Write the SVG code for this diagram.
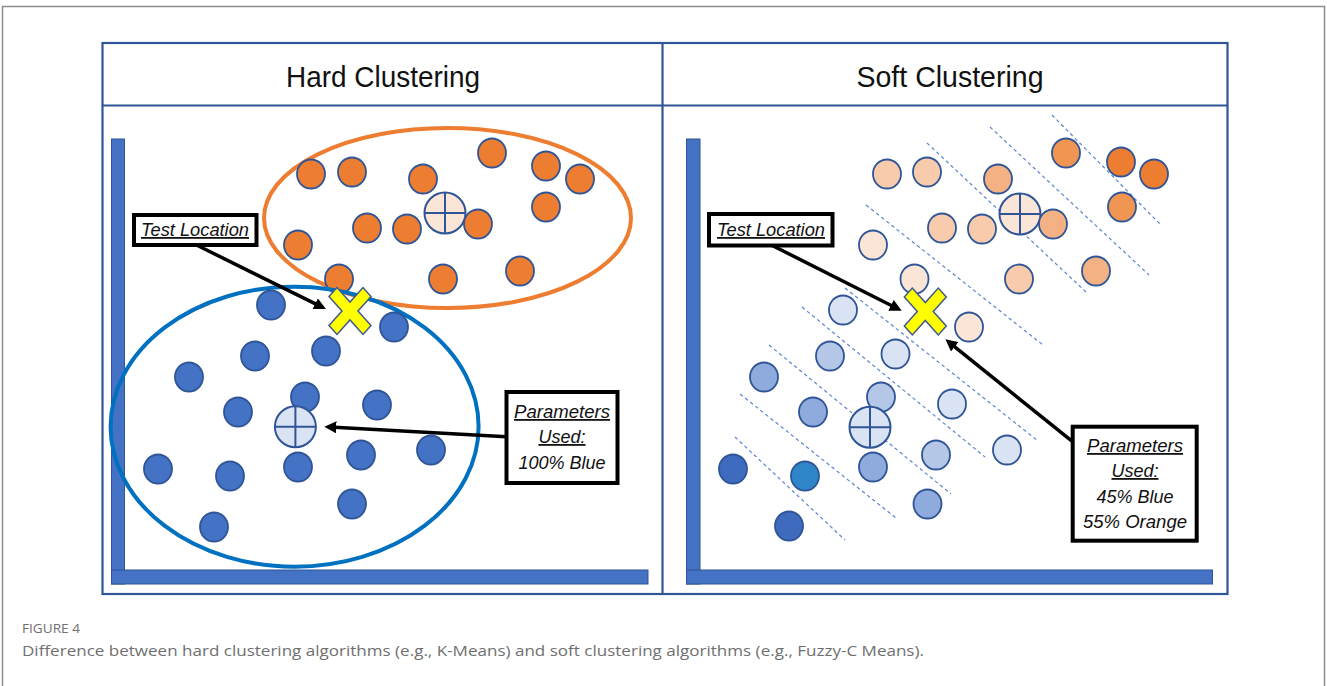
<svg xmlns="http://www.w3.org/2000/svg" width="1327" height="686" viewBox="0 0 1327 686">
<defs>
<style>
.frame{fill:none;stroke:#8c8c8c;stroke-width:1.5}
.tbl{fill:none;stroke:#2f5597;stroke-width:2.2}
.axis{fill:#4472c4;stroke:#2f5597;stroke-width:1}
.title{font-family:"Liberation Sans",Arial,sans-serif;font-size:29px;fill:#111;text-anchor:middle}
.dot{stroke:#2f5597;stroke-width:1.8}
.o{fill:#ed7d31}.b{fill:#4472c4}
.oD{fill:#ed7d31}.oMD{fill:#f09652}.oM{fill:#f4b183}.oL{fill:#f8cbad}.oVL{fill:#fbe5d6}
.bD{fill:#3f6bbf}.bT{fill:#2e86c8}.bM{fill:#8faadc}.bL{fill:#b4c7e7}.bVL{fill:#dae3f3}
.cent{stroke:#2f5597;stroke-width:2}
.cross{stroke:#2f5597;stroke-width:2}
.xmark{fill:#ffff00;stroke:#3f5a8f;stroke-width:1.5;stroke-linejoin:miter}
.box{fill:#fff;stroke:#000;stroke-width:4}
.lbl{font-family:"Liberation Sans",Arial,sans-serif;font-style:italic;font-size:18px;fill:#111;text-anchor:middle}
.ul{text-decoration:underline}
.dash{stroke:#5b85d0;stroke-width:1.2;stroke-dasharray:3.5 3;fill:none}
.conn{stroke:#000;stroke-width:3.5;fill:none;marker-end:url(#ah)}
.cap{font-family:"Open Sans","Liberation Sans",sans-serif;fill:#6f6f6f}
</style>
<marker id="ah" viewBox="0 0 12 12" refX="2" refY="6" markerWidth="12" markerHeight="12" markerUnits="userSpaceOnUse" orient="auto">
<path d="M0,0 L12,6 L0,12 z" fill="#000"/>
</marker>
<g id="xshape">
<polygon points="-21,-14.6 -13,-23.5 0,-8.9 13,-23.5 21,-14.6 8,0 21,14.6 13,23.5 0,8.9 -13,23.5 -21,14.6 -8,0"/>
</g>
</defs>
<rect width="1327" height="686" fill="#fff"/>
<rect class="frame" x="2.5" y="6.5" width="1322" height="700"/>

<g id="table">
<rect class="tbl" x="102.5" y="43" width="1125" height="551"/>
<line class="tbl" x1="102.5" y1="105.5" x2="1227.5" y2="105.5" stroke-width="2.5"/>
<line class="tbl" x1="662.5" y1="43" x2="662.5" y2="594"/>
<text class="title" x="383" y="87" textLength="194" lengthAdjust="spacingAndGlyphs">Hard Clustering</text>
<text class="title" x="950" y="87" textLength="187" lengthAdjust="spacingAndGlyphs">Soft Clustering</text>
</g>

<g id="hard-axes">
<rect class="axis" x="111.5" y="139" width="13" height="445"/>
<rect class="axis" x="111.5" y="570" width="536.5" height="14"/>
</g>

<g id="hard-orange-cluster">
<ellipse cx="447.5" cy="218" rx="183.5" ry="90" fill="none" stroke="#ed7d31" stroke-width="4"/>
<g class="dot o">
<ellipse cx="311" cy="174" rx="14" ry="14.5"/>
<ellipse cx="352" cy="172" rx="14" ry="14.5"/>
<ellipse cx="423" cy="179" rx="14" ry="14.5"/>
<ellipse cx="492" cy="153" rx="14" ry="14.5"/>
<ellipse cx="546" cy="166" rx="14" ry="14.5"/>
<ellipse cx="580" cy="179" rx="14" ry="14.5"/>
<ellipse cx="546" cy="207" rx="14" ry="14.5"/>
<ellipse cx="367" cy="228" rx="14" ry="14.5"/>
<ellipse cx="407" cy="229" rx="14" ry="14.5"/>
<ellipse cx="298" cy="245" rx="14" ry="14.5"/>
<ellipse cx="339" cy="279" rx="14" ry="14.5"/>
<ellipse cx="443" cy="279" rx="14" ry="14.5"/>
<ellipse cx="520" cy="271" rx="14" ry="14.5"/>
</g>
<circle class="cent" cx="445" cy="213" r="20.5" fill="#fbe5d6"/>
<path class="cross" d="M424.5,213 H465.5 M445,192.5 V233.5"/>
<ellipse class="dot o" cx="478" cy="224" rx="14" ry="14.5"/>
</g>

<g id="hard-blue-cluster">
<ellipse cx="294.6" cy="426.7" rx="184" ry="140" fill="none" stroke="#0070c0" stroke-width="4"/>
<g class="dot b">
<ellipse cx="271" cy="305" rx="14" ry="14.5"/>
<ellipse cx="394" cy="327" rx="14" ry="14.5"/>
<ellipse cx="255" cy="356" rx="14" ry="14.5"/>
<ellipse cx="326" cy="351" rx="14" ry="14.5"/>
<ellipse cx="189" cy="377" rx="14" ry="14.5"/>
<ellipse cx="305" cy="397" rx="14" ry="14.5"/>
<ellipse cx="238" cy="412" rx="14" ry="14.5"/>
<ellipse cx="377" cy="405" rx="14" ry="14.5"/>
<ellipse cx="158" cy="469" rx="14" ry="14.5"/>
<ellipse cx="230" cy="476" rx="14" ry="14.5"/>
<ellipse cx="298" cy="467" rx="14" ry="14.5"/>
<ellipse cx="361" cy="455" rx="14" ry="14.5"/>
<ellipse cx="431" cy="450" rx="14" ry="14.5"/>
<ellipse cx="352" cy="504" rx="14" ry="14.5"/>
<ellipse cx="214" cy="527" rx="14" ry="14.5"/>
</g>
<circle class="cent" cx="295.4" cy="426.7" r="20.5" fill="#dae3f3"/>
<path class="cross" d="M274.9,426.7 H315.9 M295.4,406.2 V447.2"/>
</g>

<g id="hard-test-point">
<use href="#xshape" class="xmark" transform="translate(350,311)"/>
</g>

<g id="hard-test-label">
<rect class="box" x="134" y="215" width="122.5" height="30"/>
<text class="lbl ul" x="195" y="236" textLength="108" lengthAdjust="spacingAndGlyphs">Test Location</text>
</g>

<g id="hard-params-label">
<rect class="box" x="506.5" y="392" width="111" height="91"/>
<text class="lbl ul" x="562" y="418" textLength="96" lengthAdjust="spacingAndGlyphs">Parameters</text>
<text class="lbl ul" x="562" y="443">Used:</text>
<text class="lbl" x="562" y="469">100% Blue</text>
</g>

<g id="soft-axes">
<rect class="axis" x="686.5" y="139" width="13.5" height="445"/>
<rect class="axis" x="686.5" y="570" width="526" height="14"/>
</g>

<g id="soft-membership-lines">
<line class="dash" x1="1052" y1="115" x2="1160" y2="224"/>
<line class="dash" x1="990" y1="127" x2="1149" y2="275"/>
<line class="dash" x1="927" y1="143" x2="1086" y2="292"/>
<line class="dash" x1="866" y1="205" x2="1043" y2="345"/>
<line class="dash" x1="845" y1="288" x2="1038" y2="441"/>
<line class="dash" x1="802" y1="307" x2="985" y2="457"/>
<line class="dash" x1="769" y1="345" x2="951" y2="494"/>
<line class="dash" x1="740" y1="394" x2="896" y2="518"/>
<line class="dash" x1="735" y1="437" x2="845" y2="540"/>
</g>

<g id="soft-orange-cluster">
<g class="dot">
<ellipse class="oL" cx="887" cy="174" rx="14" ry="14.5"/>
<ellipse class="oL" cx="927" cy="172" rx="14" ry="14.5"/>
<ellipse class="oM" cx="998" cy="179" rx="14" ry="14.5"/>
<ellipse class="oMD" cx="1066" cy="153" rx="14" ry="14.5"/>
<ellipse class="oD" cx="1121" cy="162" rx="14" ry="14.5"/>
<ellipse class="oD" cx="1154" cy="174" rx="14" ry="14.5"/>
<ellipse class="oMD" cx="1122" cy="207" rx="14" ry="14.5"/>
<ellipse class="oL" cx="942" cy="228" rx="14" ry="14.5"/>
<ellipse class="oL" cx="982" cy="229" rx="14" ry="14.5"/>
<ellipse class="oVL" cx="873" cy="245" rx="14" ry="14.5"/>
<ellipse class="oVL" cx="914.5" cy="279" rx="14" ry="14.5"/>
<ellipse class="oL" cx="1019" cy="279" rx="14" ry="14.5"/>
<ellipse class="oM" cx="1096" cy="271" rx="14" ry="14.5"/>
<ellipse class="oVL" cx="969" cy="327" rx="14" ry="14.5"/>
</g>
<circle class="cent" cx="1020" cy="214" r="20.5" fill="#fbe5d6"/>
<path class="cross" d="M999.5,214 H1040.5 M1020,193.5 V234.5"/>
<ellipse class="dot oM" cx="1053" cy="224" rx="14" ry="14.5"/>
</g>

<g id="soft-blue-cluster">
<g class="dot">
<ellipse class="bVL" cx="843" cy="310" rx="14" ry="14.5"/>
<ellipse class="bL" cx="830" cy="356" rx="14" ry="14.5"/>
<ellipse class="bVL" cx="895.5" cy="354" rx="14" ry="14.5"/>
<ellipse class="bM" cx="764" cy="377" rx="14" ry="14.5"/>
<ellipse class="bL" cx="881" cy="397" rx="14" ry="14.5"/>
<ellipse class="bM" cx="813" cy="412" rx="14" ry="14.5"/>
<ellipse class="bVL" cx="952" cy="404" rx="14" ry="14.5"/>
<ellipse class="bD" cx="733" cy="469" rx="14" ry="14.5"/>
<ellipse class="bT" cx="805" cy="476" rx="14" ry="14.5"/>
<ellipse class="bM" cx="873" cy="467" rx="14" ry="14.5"/>
<ellipse class="bL" cx="936" cy="455" rx="14" ry="14.5"/>
<ellipse class="bVL" cx="1007" cy="450" rx="14" ry="14.5"/>
<ellipse class="bM" cx="927.5" cy="504" rx="14" ry="14.5"/>
<ellipse class="bD" cx="789" cy="526" rx="14" ry="14.5"/>
</g>
<circle class="cent" cx="870" cy="427.3" r="20.5" fill="#dae3f3"/>
<path class="cross" d="M849.5,427.3 H890.5 M870,406.8 V447.8"/>
</g>

<g id="soft-test-point">
<use href="#xshape" class="xmark" transform="translate(925.3,311.5)"/>
</g>

<g id="soft-test-label">
<rect class="box" x="709" y="214" width="123.5" height="31.5"/>
<text class="lbl ul" x="771" y="236" textLength="108" lengthAdjust="spacingAndGlyphs">Test Location</text>
</g>

<g id="soft-params-label">
<rect class="box" x="1072.7" y="426.7" width="124" height="114"/>
<text class="lbl ul" x="1135" y="452" textLength="96" lengthAdjust="spacingAndGlyphs">Parameters</text>
<text class="lbl ul" x="1135" y="477">Used:</text>
<text class="lbl" x="1135" y="503">45% Blue</text>
<text class="lbl" x="1135" y="527.5" textLength="104" lengthAdjust="spacingAndGlyphs">55% Orange</text>
</g>

<g id="connectors">
<line class="conn" x1="196.5" y1="245" x2="317" y2="304.6"/>
<line class="conn" x1="506.5" y1="436.7" x2="334.3" y2="427.2"/>
<line class="conn" x1="772.7" y1="245.7" x2="892.8" y2="306.2"/>
<line class="conn" x1="1072.6" y1="441.7" x2="953.2" y2="345.6"/>
</g>

<g id="caption">
<text class="cap" x="22" y="633" font-size="13" textLength="58" lengthAdjust="spacingAndGlyphs">FIGURE 4</text>
<text class="cap" x="22" y="656" font-size="15" textLength="902" lengthAdjust="spacingAndGlyphs">Difference between hard clustering algorithms (e.g., K-Means) and soft clustering algorithms (e.g., Fuzzy-C Means).</text>
</g>
</svg>
